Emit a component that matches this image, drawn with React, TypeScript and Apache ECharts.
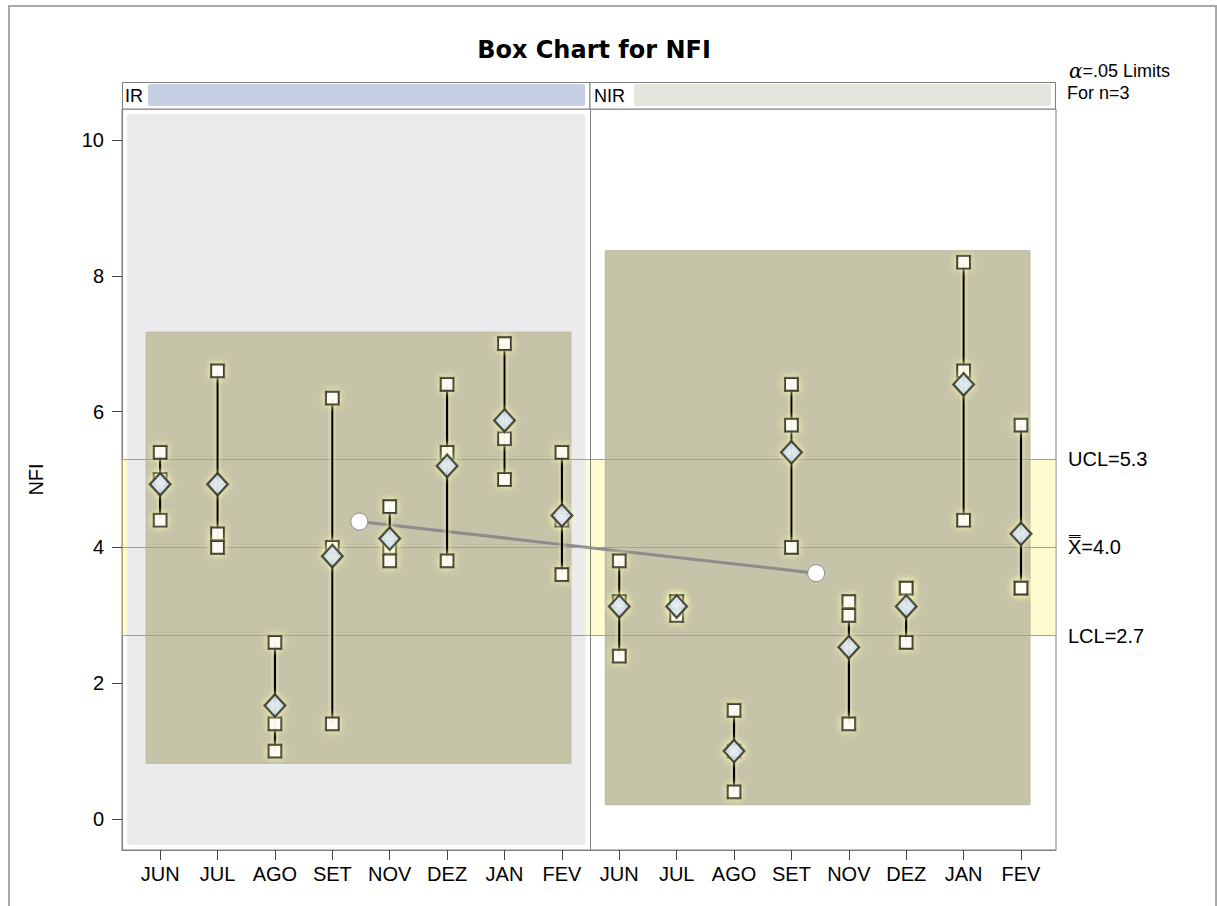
import React, { useEffect, useRef } from "react";
import * as echarts from "echarts";

// ---- data ----
const months = ["JUN", "JUL", "AGO", "SET", "NOV", "DEZ", "JAN", "FEV"];
const xLabels = [...months, ...months];
const phaseNames = ["IR", "NIR"];
// three observations per subgroup (n=3)
const obsA = [5.4, 6.6, 2.6, 6.2, 4.6, 6.4, 7.0, 5.4, 3.8, 3.2, 1.6, 6.4, 3.2, 3.4, 8.2, 5.8];
const obsB = [5.0, 4.2, 1.4, 4.0, 4.0, 5.4, 5.6, 4.4, 3.2, 3.2, 1.0, 5.8, 3.0, 3.4, 6.6, 3.4];
const obsC = [4.4, 4.0, 1.0, 1.4, 3.8, 3.8, 5.0, 3.6, 2.4, 3.0, 0.4, 4.0, 1.4, 2.6, 4.4, 3.4];
const subgroupMeans = [4.93, 4.93, 1.67, 3.87, 4.13, 5.2, 5.87, 4.47, 3.13, 3.13, 1.0, 5.4, 2.53, 3.13, 6.4, 4.2];
const phaseFirst = [0, 8];
const phaseLast = [7, 15];
const phaseBoxLow = [0.82, 0.21];
const phaseBoxHigh = [7.17, 8.37];
const phaseMeanX = [3.47, 11.43];
const phaseMeanY = [4.38, 3.62];
const UCL = 5.3;
const CENTER = 4.0;
const LCL = 2.7;
const yTicks = [0, 2, 4, 6, 8, 10];

const FONT = "Liberation Sans, Arial, sans-serif";

export default function App() {
  const ref = useRef<HTMLDivElement>(null);
  useEffect(() => {
    document.body.style.margin = "0";
    const chart = echarts.init(ref.current!, null, { renderer: "svg" });
    const xIdx = xLabels.map((_, i) => i);
    const glow = { shadowBlur: 7, shadowColor: "rgba(255,255,180,1)" };

    const squares: number[][] = [];
    xIdx.forEach((i) => {
      squares.push([i, obsA[i]], [i, obsB[i]], [i, obsC[i]]);
    });
    const whiskers = xIdx.map((i) => [
      i,
      Math.min(obsA[i], obsB[i], obsC[i]),
      Math.max(obsA[i], obsB[i], obsC[i]),
    ]);

    const option: any = {
      animation: false,
      backgroundColor: "#ffffff",
      textStyle: { fontFamily: FONT },
      title: {
        text: "Box Chart for NFI",
        left: 589,
        top: 33,
        textAlign: "center",
        textStyle: { fontFamily: "DejaVu Sans", fontSize: 24, fontWeight: "bold", color: "#000" },
      },
      grid: {
        left: 122,
        top: 109,
        width: 934,
        height: 741,
        show: true,
        borderColor: "#7f7f7f",
        borderWidth: 1,
        backgroundColor: "transparent",
      },
      xAxis: {
        type: "value",
        min: -0.665,
        max: 15.61,
        splitLine: { show: false },
        axisLine: { show: true, onZero: false, lineStyle: { color: "#7f7f7f" } },
        axisTick: { show: true, length: 10, customValues: xIdx, lineStyle: { color: "#444" } },
        axisLabel: {
          customValues: xIdx,
          formatter: (v: number) => xLabels[Math.round(v)] ?? "",
          fontSize: 20,
          color: "#000",
          margin: 14,
          fontFamily: FONT,
        },
      },
      yAxis: {
        type: "value",
        min: -0.457,
        max: 10.457,
        name: "NFI",
        nameLocation: "middle",
        nameGap: 76,
        nameRotate: 90,
        nameTextStyle: { fontSize: 20, color: "#000", fontFamily: FONT },
        splitLine: { show: false },
        axisLine: { show: true, onZero: false, lineStyle: { color: "#7f7f7f" } },
        axisTick: { show: true, length: 10, customValues: yTicks, lineStyle: { color: "#444" } },
        axisLabel: {
          customValues: yTicks,
          fontSize: 20,
          color: "#000",
          margin: 18,
          fontFamily: FONT,
        },
      },
      graphic: [
        // outer frame
        {
          type: "rect",
          shape: { x: 9, y: 6, width: 1207, height: 940 },
          style: { fill: "none", stroke: "#a8a8a8", lineWidth: 2 },
          silent: true,
          z: 0,
        },
        // IR header
        {
          type: "rect",
          shape: { x: 122.5, y: 82.5, width: 467.5, height: 26.5 },
          style: { fill: "#fff", stroke: "#7f7f7f", lineWidth: 1 },
          z: 1,
        },
        {
          type: "rect",
          shape: { x: 148, y: 84, width: 437, height: 22, r: 2 },
          style: { fill: "#c6d0e2" },
          z: 2,
        },
        {
          type: "text",
          x: 125,
          y: 96,
          style: { text: phaseNames[0], fontSize: 18, fill: "#000", verticalAlign: "middle", fontFamily: FONT },
          z: 3,
        },
        // NIR header
        {
          type: "rect",
          shape: { x: 590, y: 82.5, width: 465.5, height: 26.5 },
          style: { fill: "#fff", stroke: "#7f7f7f", lineWidth: 1 },
          z: 1,
        },
        {
          type: "rect",
          shape: { x: 634, y: 84, width: 417, height: 22, r: 2 },
          style: { fill: "#e4e5dc" },
          z: 2,
        },
        {
          type: "text",
          x: 594,
          y: 96,
          style: { text: phaseNames[1], fontSize: 18, fill: "#000", verticalAlign: "middle", fontFamily: FONT },
          z: 3,
        },
        // limits legend
        {
          type: "text",
          x: 1069,
          y: 71,
          style: {
            text: "{a|α}=.05 Limits",
            rich: { a: { fontStyle: "italic", fontSize: 20, fontFamily: "DejaVu Serif" } },
            fontSize: 18,
            fill: "#000",
            verticalAlign: "middle",
            fontFamily: FONT,
          },
        },
        {
          type: "text",
          x: 1067,
          y: 93,
          style: { text: "For n=3", fontSize: 18, fill: "#000", verticalAlign: "middle", fontFamily: FONT },
        },
      ],
      series: [
        // IR phase background
        {
          type: "custom",
          z: 1,
          silent: true,
          data: [[phaseFirst[0], phaseLast[0]]],
          renderItem: (params: any, api: any) => {
            const cs = params.coordSys;
            const right = api.coord([api.value(1) + 0.5, 0])[0];
            return {
              type: "rect",
              shape: { x: cs.x + 5, y: cs.y + 5, width: right - cs.x - 10, height: cs.height - 10, r: 3 },
              style: { fill: "#ebebed" },
            };
          },
        },
        // phase boxes
        {
          type: "custom",
          z: 2,
          silent: true,
          data: phaseFirst.map((f, k) => [f, phaseLast[k], phaseBoxLow[k], phaseBoxHigh[k]]),
          renderItem: (params: any, api: any) => {
            const p1 = api.coord([api.value(0), api.value(3)]);
            const p2 = api.coord([api.value(1), api.value(2)]);
            return {
              type: "rect",
              shape: { x: p1[0] - 14, y: p1[1], width: p2[0] - p1[0] + 23, height: p2[1] - p1[1] },
              style: { fill: "#c6c4a8", stroke: "#b9b79c", lineWidth: 1 },
            };
          },
        },
        // limit band + limit lines + phase divider
        {
          type: "line",
          z: 3,
          data: [],
          silent: true,
          markArea: {
            silent: true,
            itemStyle: { color: "rgba(252,245,120,0.36)" },
            data: [[{ yAxis: LCL }, { yAxis: UCL }]],
          },
          markLine: {
            silent: true,
            symbol: "none",
            lineStyle: { color: "#9f9f9f", width: 1, type: "solid" },
            label: { show: true, position: "end", distance: 12, color: "#000", fontSize: 20, fontFamily: FONT },
            data: [
              { yAxis: UCL, label: { formatter: "UCL=" + UCL.toFixed(1) } },
              { yAxis: CENTER, label: { formatter: "X\u033F=" + CENTER.toFixed(1) } },
              { yAxis: LCL, label: { formatter: "LCL=" + LCL.toFixed(1) } },
              { xAxis: 7.5, label: { show: false }, lineStyle: { color: "#7f7f7f", width: 1 } },
            ],
          },
        },
        // phase mean connecting line
        {
          type: "line",
          z: 4,
          data: phaseMeanX.map((x, k) => [x, phaseMeanY[k]]),
          symbol: "circle",
          symbolSize: 17,
          showSymbol: true,
          lineStyle: { color: "#8c8c8c", width: 3 },
          itemStyle: { color: "#ffffff", borderColor: "#8c8c8c", borderWidth: 1 },
        },
        // whiskers
        {
          type: "custom",
          z: 5,
          data: whiskers,
          renderItem: (params: any, api: any) => {
            const lo = api.coord([api.value(0), api.value(1)]);
            const hi = api.coord([api.value(0), api.value(2)]);
            return {
              type: "rect",
              shape: { x: lo[0] - 1.2, y: hi[1], width: 2.4, height: lo[1] - hi[1] },
              style: { fill: "#000", ...glow },
            };
          },
        },
        // observations
        {
          type: "scatter",
          z: 6,
          symbol: "rect",
          symbolSize: 13,
          data: squares,
          itemStyle: { color: "#ffffff", borderColor: "#000", borderWidth: 2.2, ...glow },
        },
        // subgroup means
        {
          type: "scatter",
          z: 7,
          symbol: "diamond",
          symbolSize: [21, 23],
          data: xIdx.map((i) => [i, subgroupMeans[i]]),
          itemStyle: {
            color: new echarts.graphic.RadialGradient(0.5, 0.5, 0.6, [
              { offset: 0, color: "#e4eefb" },
              { offset: 1, color: "#b4cbec" },
            ]),
            borderColor: "#000",
            borderWidth: 2.4,
            ...glow,
          },
        },
      ],
    };
    chart.setOption(option);
    return () => chart.dispose();
  }, []);
  return <div ref={ref} style={{ width: 1217, height: 906 }} />;
}
